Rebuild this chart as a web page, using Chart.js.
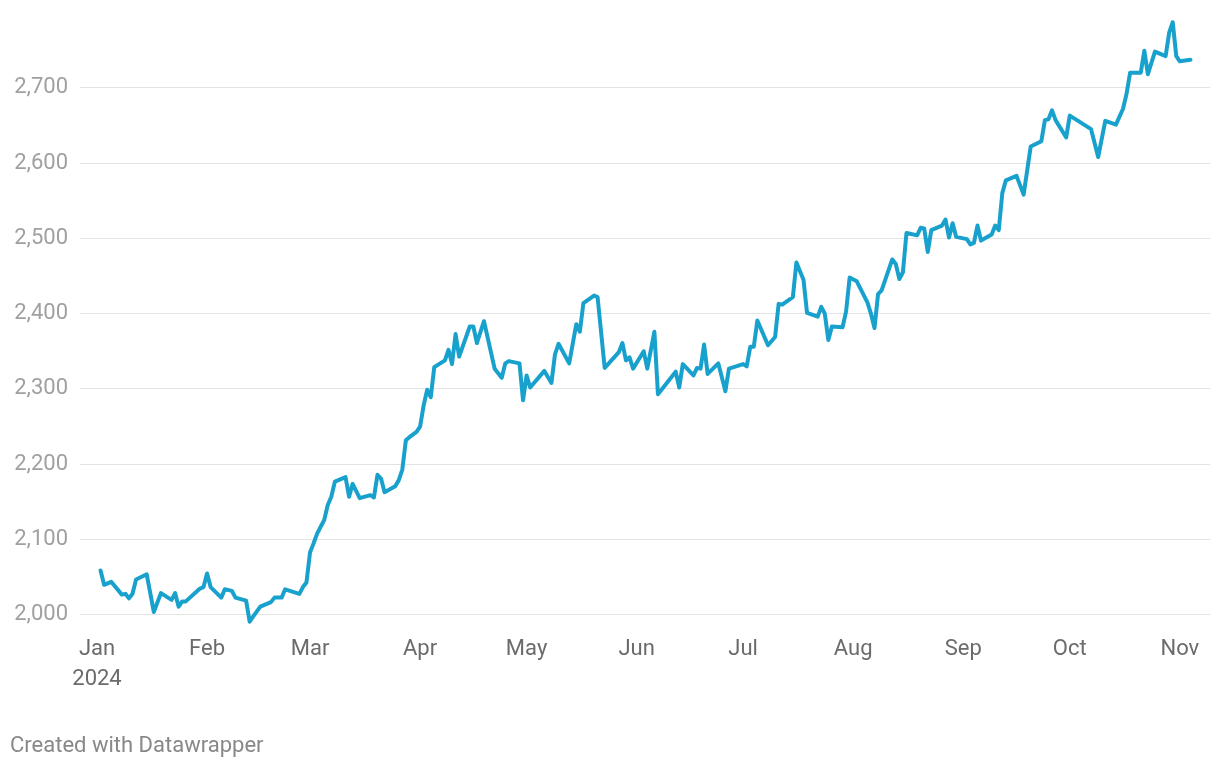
<!DOCTYPE html>
<html>
<head>
<meta charset="utf-8">
<script src="https://cdn.jsdelivr.net/npm/chart.js@4/dist/chart.umd.min.js"></script>
<style>
  html, body { margin: 0; padding: 0; background: #fff; }
  #wrap { position: relative; width: 1220px; height: 768px; }
</style>
</head>
<body>
<div id="wrap"><canvas id="chart" width="1220" height="768"></canvas></div>
<script>
// daily values
const dates = [
  '2024-01-02','2024-01-03','2024-01-05','2024-01-08','2024-01-09','2024-01-10','2024-01-11','2024-01-12',
  '2024-01-15','2024-01-17','2024-01-19','2024-01-22','2024-01-23','2024-01-24','2024-01-25','2024-01-26',
  '2024-01-30','2024-01-31','2024-02-01','2024-02-02','2024-02-05','2024-02-06','2024-02-08','2024-02-09',
  '2024-02-12','2024-02-13','2024-02-14','2024-02-16','2024-02-19','2024-02-20','2024-02-22','2024-02-23',
  '2024-02-27','2024-02-28','2024-02-29','2024-03-01','2024-03-02','2024-03-03','2024-03-05','2024-03-06',
  '2024-03-07','2024-03-08','2024-03-11','2024-03-12','2024-03-13','2024-03-15','2024-03-18','2024-03-19',
  '2024-03-20','2024-03-21','2024-03-22','2024-03-25','2024-03-26','2024-03-27','2024-03-28','2024-03-29',
  '2024-03-31','2024-04-01','2024-04-02','2024-04-03','2024-04-04','2024-04-05','2024-04-08','2024-04-09',
  '2024-04-10','2024-04-11','2024-04-12','2024-04-15','2024-04-16','2024-04-17','2024-04-19','2024-04-22',
  '2024-04-24','2024-04-25','2024-04-26','2024-04-29','2024-04-30','2024-05-01','2024-05-02','2024-05-06',
  '2024-05-08','2024-05-09','2024-05-10','2024-05-13','2024-05-15','2024-05-16','2024-05-17','2024-05-20',
  '2024-05-21','2024-05-23','2024-05-27','2024-05-28','2024-05-29','2024-05-30','2024-05-31','2024-06-03',
  '2024-06-04','2024-06-06','2024-06-07','2024-06-12','2024-06-13','2024-06-14','2024-06-17','2024-06-18',
  '2024-06-19','2024-06-20','2024-06-21','2024-06-24','2024-06-26','2024-06-27','2024-07-01','2024-07-02',
  '2024-07-03','2024-07-04','2024-07-05','2024-07-08','2024-07-10','2024-07-11','2024-07-12','2024-07-15',
  '2024-07-16','2024-07-18','2024-07-19','2024-07-22','2024-07-23','2024-07-24','2024-07-25','2024-07-26',
  '2024-07-29','2024-07-30','2024-07-31','2024-08-02','2024-08-05','2024-08-06','2024-08-07','2024-08-08',
  '2024-08-09','2024-08-12','2024-08-13','2024-08-14','2024-08-15','2024-08-16','2024-08-17','2024-08-19',
  '2024-08-20','2024-08-21','2024-08-22','2024-08-23','2024-08-26','2024-08-27','2024-08-28','2024-08-29',
  '2024-08-30','2024-09-02','2024-09-03','2024-09-04','2024-09-05','2024-09-06','2024-09-09','2024-09-10',
  '2024-09-11','2024-09-12','2024-09-13','2024-09-16','2024-09-18','2024-09-20','2024-09-23','2024-09-24',
  '2024-09-25','2024-09-26','2024-09-27','2024-09-30','2024-10-01','2024-10-07','2024-10-09','2024-10-11',
  '2024-10-14','2024-10-16','2024-10-17','2024-10-18','2024-10-21','2024-10-22','2024-10-23','2024-10-25',
  '2024-10-28','2024-10-29','2024-10-30','2024-10-31','2024-11-01','2024-11-04'
];

const values = [
  2059, 2040, 2044, 2027, 2028, 2022, 2028, 2047,
  2054, 2004, 2029, 2020, 2029, 2011, 2018, 2018,
  2035, 2037, 2055, 2037, 2023, 2034, 2032, 2023,
  2019, 1991, 1998, 2011, 2017, 2023, 2023, 2034,
  2028, 2037, 2043, 2083, 2095, 2108, 2126, 2146,
  2157, 2177, 2183, 2157, 2174, 2155, 2159, 2156,
  2186, 2181, 2163, 2171, 2179, 2193, 2232, 2236,
  2243, 2250, 2278, 2299, 2289, 2329, 2338, 2352,
  2333, 2373, 2343, 2383, 2383, 2361, 2390, 2327,
  2315, 2334, 2337, 2334, 2285, 2318, 2302, 2324,
  2308, 2346, 2360, 2334, 2386, 2376, 2414, 2424,
  2422, 2328, 2349, 2361, 2338, 2342, 2327, 2350,
  2327, 2376, 2293, 2323, 2302, 2333, 2318, 2328,
  2327, 2359, 2320, 2334, 2297, 2327, 2333, 2330,
  2356, 2356, 2391, 2358, 2369, 2413, 2412, 2422,
  2468, 2445, 2401, 2396, 2409, 2400, 2365, 2383,
  2382, 2403, 2448, 2443, 2415, 2400, 2381, 2426,
  2431, 2472, 2466, 2446, 2455, 2507, 2506, 2504,
  2514, 2513, 2482, 2511, 2517, 2525, 2501, 2520,
  2502, 2499, 2492, 2494, 2517, 2497, 2505, 2517,
  2511, 2560, 2577, 2583, 2558, 2622, 2629, 2657,
  2658, 2670, 2657, 2634, 2663, 2645, 2608, 2656,
  2651, 2672, 2692, 2720, 2720, 2749, 2718, 2748,
  2742, 2773, 2787, 2742, 2735, 2737
];

// x-axis ticks: first day of each month
const monthStarts = ['2024-01-01','2024-02-01','2024-03-01','2024-04-01','2024-05-01','2024-06-01',
  '2024-07-01','2024-08-01','2024-09-01','2024-10-01','2024-11-01'];
const monthLabels = ['Jan','Feb','Mar','Apr','May','Jun','Jul','Aug','Sep','Oct','Nov'];
const yTicks = [2000, 2100, 2200, 2300, 2400, 2500, 2600, 2700];

const t0 = Date.UTC(2024, 0, 1);
function dayOf(s) {
  const p = s.split('-').map(Number);
  return (Date.UTC(p[0], p[1] - 1, p[2]) - t0) / 864e5;
}
const points = dates.map((d, i) => ({ x: dayOf(d), y: values[i] }));
const tickDays = monthStarts.map(dayOf);

const FONT = 'Roboto, "Noto Sans", sans-serif';

// "Created with Datawrapper" line under the chart
const footer = {
  id: 'footer',
  afterDraw(chart) {
    const ctx = chart.ctx;
    ctx.save();
    ctx.font = '22px ' + FONT;
    ctx.fillStyle = '#888888';
    ctx.textAlign = 'left';
    ctx.textBaseline = 'alphabetic';
    ctx.fillText('Created with Datawrapper', 10, 752);
    ctx.restore();
  }
};

new Chart(document.getElementById('chart'), {
  type: 'line',
  data: {
    datasets: [{
      data: points,
      borderColor: '#18a1cd',
      borderWidth: 4,
      pointRadius: 0,
      pointHoverRadius: 0,
      tension: 0,
      fill: false,
      clip: false,
      borderJoinStyle: 'round',
      borderCapStyle: 'round'
    }]
  },
  options: {
    responsive: false,
    animation: false,
    layout: { padding: { top: 19, right: 10, left: 0, bottom: 0 } },
    plugins: {
      legend: { display: false },
      tooltip: { enabled: false }
    },
    scales: {
      x: {
        type: 'linear',
        min: -4.79,
        max: 313.5,
        grid: { display: false, drawTicks: false },
        border: { display: false },
        afterBuildTicks: (scale) => { scale.ticks = tickDays.map(v => ({ value: v })); },
        afterFit: (scale) => { scale.height = 138; },
        ticks: {
          autoSkip: false,
          maxRotation: 0,
          padding: 5,
          color: '#6b6b6b',
          font: { family: FONT, size: 22, lineHeight: 1.36 },
          callback: (v, i) => i === 0 ? [monthLabels[0], '2024'] : monthLabels[i]
        }
      },
      y: {
        min: 1980,
        max: 2783,
        grid: { color: '#e3e3e3', lineWidth: 1, drawTicks: false },
        border: { display: false },
        afterBuildTicks: (scale) => { scale.ticks = yTicks.map(v => ({ value: v })); },
        afterFit: (scale) => { scale.width = 80; },
        ticks: {
          padding: 12,
          color: '#a0a0a0',
          font: { family: FONT, size: 22 },
          callback: (v) => v.toLocaleString('en-US')
        }
      }
    }
  },
  plugins: [footer]
});
</script>
</body>
</html>
